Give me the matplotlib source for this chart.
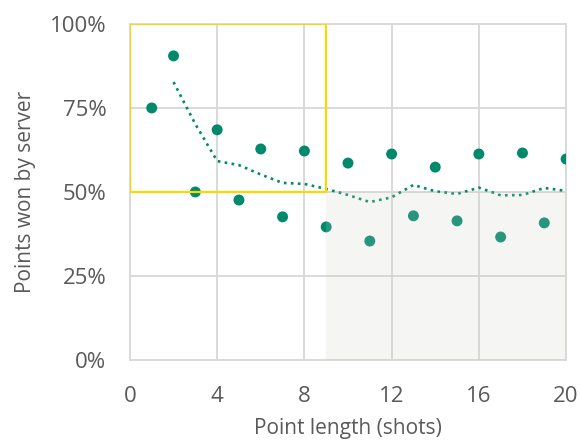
import matplotlib
matplotlib.use("Agg")
import matplotlib.pyplot as plt
from matplotlib.patches import Rectangle
from matplotlib.ticker import PercentFormatter

# share of points won by the server, per point length
shots = [1, 2, 3, 4, 5, 6, 7, 8, 9, 10, 11, 12, 13, 14, 15, 16, 17, 18, 19, 20]
won = [75.0, 90.5, 50.0, 68.5, 47.6, 62.8, 42.6, 62.2, 39.6, 58.6,
       35.4, 61.3, 42.9, 57.4, 41.4, 61.3, 36.6, 61.6, 40.8, 59.8]

# dotted trend line (starts at 2 shots)
trend_x = [2, 3, 4, 5, 6, 7, 8, 9, 10, 11, 12, 13, 14, 15, 16, 17, 18, 19, 20]
trend_y = [82.7, 70.2, 59.2, 58.0, 55.2, 52.7, 52.4, 50.9, 49.1, 47.0,
           48.4, 52.1, 50.2, 49.4, 51.3, 49.0, 49.1, 51.2, 50.3]

green = "#00896b"
txt = "#595959"
plt.rcParams["font.family"] = ["Open Sans", "DejaVu Sans"]

fig = plt.figure(figsize=(5.8, 4.41), dpi=100)
ax = fig.add_axes([0.224, 0.1837, 0.752, 0.762])

ax.scatter(shots, won, s=62, color=green, edgecolors="none", zorder=3)
ax.plot(trend_x, trend_y, linestyle=":", color=green, linewidth=1.9, zorder=3)

# highlight boxes
ax.add_patch(Rectangle((0, 50), 9, 50, fill=False, edgecolor="#ffd700",
                       linewidth=1.6, zorder=4))
ax.add_patch(Rectangle((9, 0), 11, 50, facecolor=(205/255, 205/255, 195/255),
                       alpha=0.2, edgecolor="none", zorder=4))

ax.set_xlim(0, 20)
ax.set_ylim(0, 100)
ax.set_xticks([0, 4, 8, 12, 16, 20])
ax.set_yticks([0, 25, 50, 75, 100])
ax.yaxis.set_major_formatter(PercentFormatter(decimals=0))

ax.grid(True, color="#d9d9d9", linewidth=1.4)
ax.set_axisbelow(True)
for gl in ax.get_xgridlines() + ax.get_ygridlines():
    gl.set_clip_on(False)
for sp in ax.spines.values():
    sp.set_visible(False)

ax.tick_params(length=0, labelsize=16, labelcolor=txt)
ax.tick_params(axis="x", pad=19)
ax.tick_params(axis="y", pad=17)
ax.set_xlabel("Point length (shots)", fontsize=15, color=txt, labelpad=8)
ax.set_ylabel("Points won by server", fontsize=15, color=txt, labelpad=10)

fig.savefig("out.png", dpi=100)
